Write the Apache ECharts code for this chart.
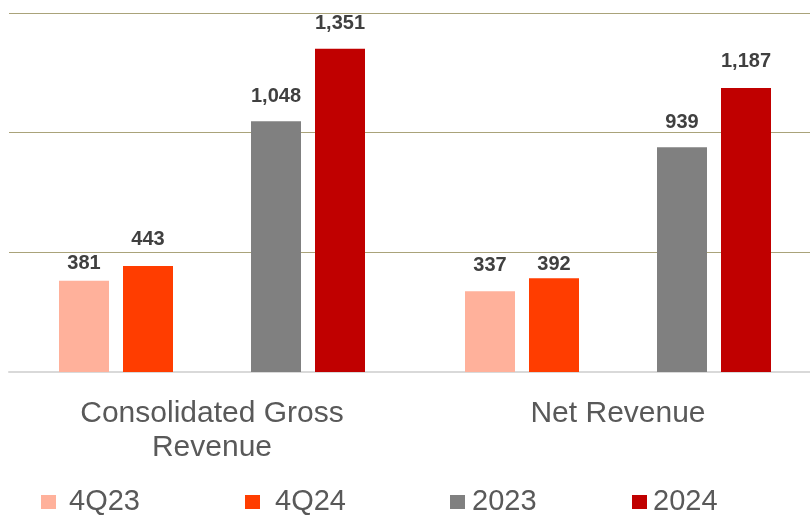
<!DOCTYPE html>
<html>
<head>
<meta charset="utf-8">
<script src="https://cdn.jsdelivr.net/npm/echarts@6/dist/echarts.min.js"></script>
<style>html,body{margin:0;padding:0;background:#fff;}#c{width:810px;height:516px;}</style>
</head>
<body>
<div id="c"></div>
<script>
var categories = ['Consolidated Gross\nRevenue', 'Net Revenue'];
var seriesNames = ['4Q23', '4Q24', '2023', '2024'];
var v4Q23 = [381, 337];
var v4Q24 = [443, 392];
var v2023 = [1048, 939];
var v2024 = [1351, 1187];
var yTicks = [0, 500, 1000, 1500];

var colors = {'4Q23': '#FFB19B', '4Q24': '#FF3D00', '2023': '#808080', '2024': '#C00000'};
// label distance tweaks (style, not data)
var labelDist = {'4Q23': [8, 17], '4Q24': [17, 5], '2023': [16, 16], '2024': [16, 17]};

function mkSeries(name, values) {
  return {
    name: name,
    type: 'bar',
    barWidth: 50,
    barGap: '28%',
    itemStyle: {color: colors[name]},
    data: values.map(function (v, i) {
      return {value: v, label: {distance: labelDist[name][i]}};
    }),
    label: {
      show: true,
      position: 'top',
      color: '#404040',
      fontFamily: 'Liberation Sans',
      fontWeight: 'bold',
      fontSize: 20,
      lineHeight: 18,
      formatter: function (p) { return Number(p.value).toLocaleString('en-US'); }
    }
  };
}

var series = [
  mkSeries('4Q23', v4Q23),
  mkSeries('4Q24', v4Q24),
  {name: 'gap', type: 'bar', barWidth: 50, barGap: '28%', data: [null, null], silent: true},
  mkSeries('2023', v2023),
  mkSeries('2024', v2024)
];

function mkLegend(name, left, pad) {
  return {
    data: [name],
    left: left,
    top: 487,
    padding: 0,
    itemWidth: 15,
    itemHeight: 14,
    icon: 'rect',
    selectedMode: false,
    textStyle: {
      fontFamily: 'Liberation Sans',
      fontSize: 29,
      lineHeight: 30,
      color: '#595959',
      padding: [0, 0, 0, pad]
    }
  };
}

var chart = echarts.init(document.getElementById('c'), null, {renderer: 'canvas'});
chart.setOption({
  animation: false,
  backgroundColor: '#ffffff',
  grid: {left: 9, top: 13, width: 812, height: 359, containLabel: false, outerBoundsMode: 'none'},
  legend: [
    mkLegend('4Q23', 41, 8),
    mkLegend('4Q24', 245, 10),
    mkLegend('2023', 450, 2),
    mkLegend('2024', 632, 1)
  ],
  xAxis: {
    type: 'category',
    data: categories,
    axisLine: {show: true, lineStyle: {color: '#d9d9d9', width: 2}},
    axisTick: {show: false},
    axisLabel: {
      fontFamily: 'Liberation Sans',
      fontSize: 30,
      lineHeight: 34,
      color: '#595959',
      margin: 25,
      interval: 0
    }
  },
  yAxis: {
    type: 'value',
    min: yTicks[0],
    max: yTicks[yTicks.length - 1],
    interval: yTicks[1] - yTicks[0],
    axisLabel: {show: false},
    axisLine: {show: false},
    axisTick: {show: false},
    splitLine: {show: true, lineStyle: {color: '#aaa37a', width: 1}}
  },
  series: series
});
</script>
</body>
</html>
